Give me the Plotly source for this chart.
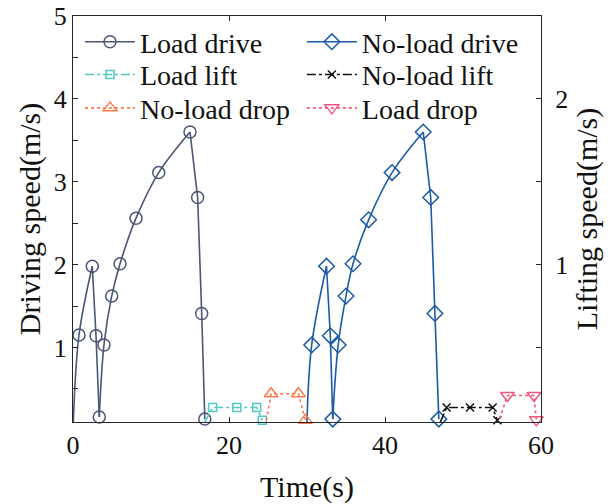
import plotly.graph_objects as go

# ---------------- data ----------------
# Driving speed (left axis, m/s)
t_load_drive = [0.0, 0.77, 2.47, 2.95, 3.37, 3.97, 4.96, 6.03, 8.08, 10.99, 15.0, 15.98, 16.5, 16.9]
v_load_drive = [0.0, 1.15, 1.98, 1.14, 0.16, 1.03, 1.62, 2.01, 2.56, 3.11, 3.60, 2.81, 1.41, 0.135]

t_noload_drive = [29.96, 30.6, 32.5, 32.99, 33.3, 34.0, 35.0, 35.9, 37.9, 40.9, 44.9, 45.86, 46.4, 46.9]
v_noload_drive = [0.0, 1.03, 1.98, 1.14, 0.135, 1.03, 1.62, 2.01, 2.54, 3.11, 3.60, 2.81, 1.41, 0.135]

# Lifting speed (right axis, m/s)
t_load_lift = [16.9, 17.9, 21.0, 23.55, 24.27]
v_load_lift = [0.05, 0.1375, 0.1375, 0.1375, 0.06]

t_noload_lift = [47.1, 47.9, 50.9, 53.8, 54.4]
v_noload_lift = [0.05, 0.1375, 0.1375, 0.1375, 0.06]

t_noload_drop = [24.8, 25.4, 28.9, 29.8]
v_noload_drop = [0.06, 0.22, 0.22, 0.06]

t_load_drop = [54.7, 55.7, 59.1, 59.4]
v_load_drop = [0.07, 0.21, 0.21, 0.063]

# rising (smooth) and falling (straight) parts of the drive curves, as index ranges
drive_rise = [(0, 2), (4, 10)]
drive_fall = [(2, 4), (10, 13)]

x_ticks = [0, 20, 40, 60]
y_left_ticks = [0.5, 1, 1.5, 2, 2.5, 3, 3.5, 4, 4.5, 5]
y_left_text = ["", "1", "", "2", "", "3", "", "4", "", "5"]
y_right_ticks = [0.5, 1, 1.5, 2]
y_right_text = ["", "1", "", "2"]

# ---------------- styles ----------------
C_LOAD = "#4B5676"
C_NOLOAD = "#1D5BA6"
C_LIFT = "#55C7C7"
C_NLLIFT = "#111111"
C_NLDROP = "#FF7A4D"
C_LDROP = "#F2577D"
FONT = "Liberation Serif"
AX = "#262626"

fig = go.Figure()


def drive(t, v, color, symbol, msize, name, leg):
    for a, b in drive_rise:
        fig.add_trace(go.Scatter(x=t[a:b + 1], y=v[a:b + 1], mode="lines",
                                 line=dict(color=color, width=1.6, shape="spline", smoothing=1.0),
                                 showlegend=False, hoverinfo="skip"))
    for a, b in drive_fall:
        fig.add_trace(go.Scatter(x=t[a:b + 1], y=v[a:b + 1], mode="lines",
                                 line=dict(color=color, width=1.6),
                                 showlegend=False, hoverinfo="skip"))
    fig.add_trace(go.Scatter(x=t[1:], y=v[1:], mode="markers", cliponaxis=False,
                             marker=dict(symbol=symbol, size=msize, color=color,
                                         line=dict(color=color, width=1.5)),
                             showlegend=False))
    fig.add_trace(go.Scatter(x=[None], y=[None], mode="lines+markers", name=name, legend=leg,
                             line=dict(color=color, width=1.6),
                             marker=dict(symbol=symbol, size=msize, color=color,
                                         line=dict(color=color, width=1.5))))


def aux(t, v, color, symbol, msize, dash, name, leg):
    fig.add_trace(go.Scatter(x=t, y=v, yaxis="y2", mode="lines",
                             line=dict(color=color, width=1.6, dash=dash),
                             showlegend=False, hoverinfo="skip"))
    fig.add_trace(go.Scatter(x=t[1:], y=v[1:], yaxis="y2", mode="markers", cliponaxis=False,
                             marker=dict(symbol=symbol, size=msize, color=color,
                                         line=dict(color=color, width=1.5)),
                             showlegend=False))
    fig.add_trace(go.Scatter(x=[None], y=[None], yaxis="y2", mode="lines+markers", name=name,
                             legend=leg,
                             line=dict(color=color, width=1.6, dash=dash),
                             marker=dict(symbol=symbol, size=msize, color=color,
                                         line=dict(color=color, width=1.5))))


drive(t_load_drive, v_load_drive, C_LOAD, "circle-open", 12, "Load drive", "legend")
drive(t_noload_drive, v_noload_drive, C_NOLOAD, "diamond-open", 12, "No-load drive", "legend2")
aux(t_load_lift, v_load_lift, C_LIFT, "square-open", 8, "dashdot", "Load lift", "legend3")
aux(t_noload_lift, v_noload_lift, C_NLLIFT, "x-thin-open", 8, "dashdot", "No-load lift", "legend4")
aux(t_noload_drop, v_noload_drop, C_NLDROP, "triangle-up-open", 12, "dot", "No-load drop", "legend5")
aux(t_load_drop, v_load_drop, C_LDROP, "triangle-down-open", 12, "dot", "Load drop", "legend6")

# legend placement: plot area spans 73..541 px horizontally, 16..422 px vertically
col_x = [0.015, 0.489]
row_y = [0.936, 0.855, 0.773]


def leg(x, y):
    return dict(x=x, y=y, xanchor="left", yanchor="middle", itemwidth=50,
                font=dict(family=FONT, size=28, color="#111111"),
                bgcolor="rgba(0,0,0,0)", borderwidth=0)


fig.update_layout(
    width=614, height=504,
    margin=dict(l=73, r=73, t=16, b=82, autoexpand=False),
    paper_bgcolor="white", plot_bgcolor="white",
    font=dict(family=FONT, size=26, color="#111111"),
    showlegend=True,
    legend=leg(col_x[0], row_y[0]),
    legend2=leg(col_x[1], row_y[0]),
    legend3=leg(col_x[0], row_y[1]),
    legend4=leg(col_x[1], row_y[1]),
    legend5=leg(col_x[0], row_y[2]),
    legend6=leg(col_x[1], row_y[2]),
    xaxis=dict(range=[0, 60], tickvals=x_ticks, ticks="inside", ticklen=5, tickcolor=AX,
               showline=True, linecolor=AX, linewidth=1.2, mirror="ticks",
               showgrid=False, zeroline=False, automargin=False,
               title=dict(text="Time(s)", font=dict(family=FONT, size=30), standoff=18)),
    yaxis=dict(range=[0.1, 5], tickvals=y_left_ticks, ticktext=y_left_text,
               ticks="inside", ticklen=5, tickcolor=AX,
               showline=True, linecolor=AX, linewidth=1.2, mirror=False,
               showgrid=False, zeroline=False, automargin=False,
               title=dict(text="Driving speed(m/s)", font=dict(family=FONT, size=30), standoff=4)),
    yaxis2=dict(range=[0.05, 2.5], tickvals=y_right_ticks, ticktext=y_right_text,
                overlaying="y", side="right", ticklabelstandoff=8,
                ticks="inside", ticklen=5, tickcolor=AX,
                showline=True, linecolor=AX, linewidth=1.2,
                showgrid=False, zeroline=False, automargin=False,
                title=dict(text="Lifting speed(m/s)", font=dict(family=FONT, size=30), standoff=8)),
)

fig.write_html("out.html")
